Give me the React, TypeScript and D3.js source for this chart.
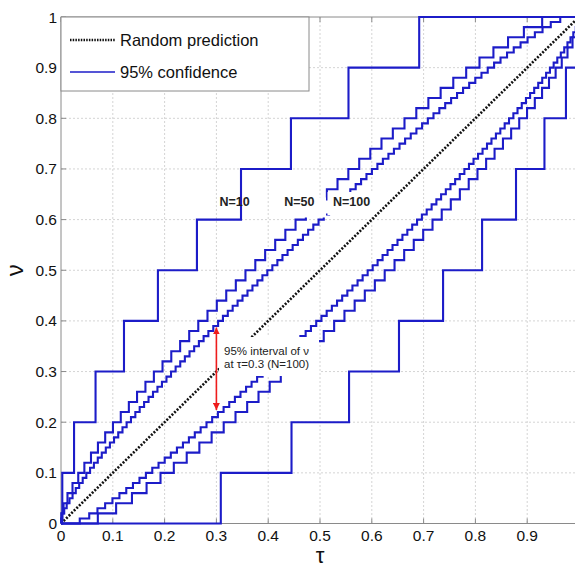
import React from "react";
import * as d3 from "d3";

// Step breakpoints: tau at which nu steps up by 1/N
const upper10 = [0.0025, 0.0252, 0.0667, 0.1216, 0.1871, 0.2624, 0.3475, 0.4439, 0.555, 0.6915];
const lower10 = [0.3085, 0.445, 0.5561, 0.6525, 0.7376, 0.8129, 0.8784, 0.9333, 0.9748, 0.9975];

const upper50 = [
  0.0005, 0.0049, 0.0125, 0.0222, 0.0333, 0.0451, 0.0579, 0.0713, 0.0853, 0.1003,
  0.1154, 0.131, 0.1468, 0.163, 0.1793, 0.196, 0.2129, 0.23, 0.2475, 0.265,
  0.2828, 0.3008, 0.319, 0.3375, 0.3561, 0.3751, 0.3941, 0.4135, 0.4331, 0.4528,
  0.4727, 0.4928, 0.5133, 0.5338, 0.5547, 0.5757, 0.5971, 0.6187, 0.6406, 0.6631,
  0.6859, 0.7092, 0.7329, 0.7573, 0.7822, 0.8079, 0.8348, 0.863, 0.8936, 0.9289,
];
const lower50 = [
  0.0711, 0.1064, 0.137, 0.1652, 0.1921, 0.2178, 0.2427, 0.2671, 0.2908, 0.3141,
  0.3369, 0.3594, 0.3813, 0.4029, 0.4243, 0.4453, 0.4662, 0.4867, 0.5072, 0.5273,
  0.5472, 0.5669, 0.5865, 0.6059, 0.6249, 0.6439, 0.6625, 0.681, 0.6992, 0.7172,
  0.735, 0.7525, 0.77, 0.7871, 0.804, 0.8207, 0.837, 0.8532, 0.869, 0.8846,
  0.8997, 0.9147, 0.9287, 0.9421, 0.9549, 0.9667, 0.9778, 0.9875, 0.9951, 0.9995,
];

const upper100 = [
  0.0003, 0.0024, 0.0062, 0.011, 0.0164, 0.0223, 0.0285, 0.0351, 0.0419, 0.0489,
  0.0561, 0.0635, 0.071, 0.0787, 0.0865, 0.0944, 0.1024, 0.1105, 0.1187, 0.1267,
  0.1351, 0.1435, 0.1519, 0.1604, 0.169, 0.1776, 0.1862, 0.1949, 0.2036, 0.2124,
  0.2213, 0.2302, 0.2391, 0.2481, 0.2571, 0.2662, 0.2753, 0.2845, 0.294, 0.3033,
  0.3126, 0.322, 0.3314, 0.3409, 0.3504, 0.36, 0.3696, 0.3792, 0.3888, 0.3983,
  0.408, 0.4177, 0.4275, 0.4374, 0.4472, 0.4572, 0.4671, 0.4771, 0.4871, 0.4972,
  0.5073, 0.5175, 0.5277, 0.5379, 0.5482, 0.5585, 0.5689, 0.5793, 0.5897, 0.6002,
  0.6108, 0.6214, 0.6321, 0.6427, 0.6535, 0.6643, 0.6752, 0.6861, 0.6971, 0.7082,
  0.7191, 0.7304, 0.7417, 0.7531, 0.7646, 0.7762, 0.788, 0.7998, 0.8117, 0.8238,
  0.8361, 0.8485, 0.8611, 0.874, 0.8872, 0.9007, 0.9148, 0.9296, 0.9455, 0.9638,
];
const lower100 = [
  0.0362, 0.0545, 0.0704, 0.0852, 0.0993, 0.1128, 0.126, 0.1389, 0.1515, 0.1639,
  0.1762, 0.1883, 0.2002, 0.212, 0.2238, 0.2354, 0.2469, 0.2583, 0.2696, 0.2809,
  0.2918, 0.3029, 0.3139, 0.3248, 0.3357, 0.3465, 0.3573, 0.3679, 0.3786, 0.3892,
  0.3998, 0.4103, 0.4207, 0.4311, 0.4415, 0.4518, 0.4621, 0.4723, 0.4825, 0.4927,
  0.5028, 0.5129, 0.5229, 0.5329, 0.5428, 0.5528, 0.5626, 0.5725, 0.5823, 0.592,
  0.6017, 0.6112, 0.6208, 0.6304, 0.64, 0.6496, 0.6591, 0.6686, 0.678, 0.6874,
  0.6967, 0.706, 0.7155, 0.7247, 0.7338, 0.7429, 0.7519, 0.7609, 0.7698, 0.7787,
  0.7876, 0.7964, 0.8051, 0.8138, 0.8224, 0.831, 0.8396, 0.8481, 0.8565, 0.8649,
  0.8733, 0.8813, 0.8895, 0.8976, 0.9056, 0.9135, 0.9213, 0.929, 0.9365, 0.9439,
  0.9511, 0.9581, 0.9649, 0.9715, 0.9777, 0.9836, 0.989, 0.9938, 0.9976, 0.9997,
];

const xTickValues = [0, 0.1, 0.2, 0.3, 0.4, 0.5, 0.6, 0.7, 0.8, 0.9, 1];
const xTickLabels = ["0", "0.1", "0.2", "0.3", "0.4", "0.5", "0.6", "0.7", "0.8", "0.9"];
const yTickValues = [0, 0.1, 0.2, 0.3, 0.4, 0.5, 0.6, 0.7, 0.8, 0.9, 1];
const yTickLabels = ["0", "0.1", "0.2", "0.3", "0.4", "0.5", "0.6", "0.7", "0.8", "0.9", "1"];

const legendLabels = ["Random prediction", "95% confidence"];
const curveLabels = [
  { text: "N=10", tau: 0.335, nu: 0.635 },
  { text: "N=50", tau: 0.46, nu: 0.635 },
  { text: "N=100", tau: 0.561, nu: 0.635 },
];
const arrowTau = 0.3;
const arrowLow = 0.224;
const arrowHigh = 0.387;
const annotationLines = ["95% interval of \u03bd", "at \u03c4=0.3 (N=100)"];

const W = 575;
const H = 567;
const BLUE = "#1c1cc8";
const FONT = "'Liberation Sans', Arial, sans-serif";

export default function App() {
  const x = d3.scaleLinear().domain([0, 1]).range([61, 579]);
  const y = d3.scaleLinear().domain([0, 1]).range([523.5, 17]);

  const stair = (br: number[]) => {
    const n = br.length;
    const pts: [number, number][] = [[0, 0], ...br.map((t, i) => [t, (i + 1) / n] as [number, number]), [1, 1]];
    return (
      d3
        .line<[number, number]>()
        .x((d) => x(d[0]))
        .y((d) => y(d[1]))
        .curve(d3.curveStepAfter)(pts) || ""
    );
  };

  const curves = [upper10, lower10, upper50, lower50, upper100, lower100];
  const left = x(0);
  const bottom = y(0);
  const top = y(1);

  return (
    <svg
      width={W}
      height={H}
      style={{ position: "absolute", left: 0, top: 0, background: "#fff" }}
      fontFamily={FONT}
    >
      <defs>
        <clipPath id="plotclip">
          <rect x={left - 1.5} y={top - 1.5} width={W - left + 2} height={bottom - top + 3} />
        </clipPath>
        <marker id="arrowR" viewBox="0 0 10 10" refX="10" refY="5" markerWidth="7" markerHeight="7" orient="auto-start-reverse" markerUnits="userSpaceOnUse">
          <path d="M0,0 L10,5 L0,10 z" fill="#ee1c1c" />
        </marker>
      </defs>
      <rect x={0} y={0} width={W} height={H} fill="#fff" />
      {/* grid */}
      <g stroke="#d4d4d4" strokeWidth={1} strokeDasharray="2,2">
        {xTickValues.slice(1).map((v) => (
          <line key={"gx" + v} x1={x(v)} x2={x(v)} y1={top} y2={bottom} />
        ))}
        {yTickValues.slice(1, -1).map((v) => (
          <line key={"gy" + v} x1={left} x2={W} y1={y(v)} y2={y(v)} />
        ))}
      </g>
      {/* axes */}
      <g stroke="#8a8a8a" strokeWidth={1}>
        <line x1={left} x2={left} y1={top} y2={bottom} />
        <line x1={left} x2={W} y1={bottom} y2={bottom} />
        <line x1={left} x2={W} y1={top} y2={top} />
        {xTickValues.map((v) => (
          <line key={"tx" + v} x1={x(v)} x2={x(v)} y1={bottom} y2={bottom - 5} />
        ))}
        {xTickValues.map((v) => (
          <line key={"ttx" + v} x1={x(v)} x2={x(v)} y1={top} y2={top + 5} />
        ))}
        {yTickValues.map((v) => (
          <line key={"ty" + v} x1={left} x2={left + 5} y1={y(v)} y2={y(v)} />
        ))}
      </g>
      <g clipPath="url(#plotclip)">
        {/* random prediction diagonal */}
        <line
          x1={x(0)}
          y1={y(0)}
          x2={x(1)}
          y2={y(1)}
          stroke="#111"
          strokeWidth={2.6}
          strokeDasharray="2,1.6"
        />
        {curves.map((c, i) => (
          <path key={"c" + i} d={stair(c)} fill="none" stroke={BLUE} strokeWidth={2.1} strokeLinejoin="miter" />
        ))}
      </g>
      {/* label backgrounds */}
      <rect x={283} y={197.5} width={43} height={20} fill="#fff" />
      <rect x={327.5} y={192} width={47} height={23} fill="#fff" />
      <rect x={219} y={337} width={100} height={39} fill="#fff" />
      {/* curve labels */}
      {curveLabels.map((l) => (
        <text key={l.text} x={x(l.tau)} y={y(l.nu) + 4.5} textAnchor="middle" fontSize={12.5} fontWeight="bold" fill="#222">
          {l.text}
        </text>
      ))}
      {/* annotation */}
      <line
        x1={x(arrowTau)}
        x2={x(arrowTau)}
        y1={y(arrowLow)}
        y2={y(arrowHigh)}
        stroke="#ee1c1c"
        strokeWidth={1.6}
        markerStart="url(#arrowR)"
        markerEnd="url(#arrowR)"
      />
      {annotationLines.map((t, i) => (
        <text key={t} x={224} y={355 + i * 13} fontSize={11.5} fill="#222">
          {t}
        </text>
      ))}
      {/* tick labels */}
      {xTickLabels.map((t, i) => (
        <text key={"xl" + t} x={x(xTickValues[i])} y={541} textAnchor="middle" fontSize={15.5} fill="#111">
          {t}
        </text>
      ))}
      {yTickLabels.map((t, i) => (
        <text key={"yl" + t} x={57} y={y(yTickValues[i]) + 5.5} textAnchor="end" fontSize={15.5} fill="#111">
          {t}
        </text>
      ))}
      {/* axis labels */}
      <text x={x(0.5)} y={563} textAnchor="middle" fontSize={22} fill="#111">
        {"\u03c4"}
      </text>
      <text transform={`translate(23,${y(0.5)}) rotate(-90)`} textAnchor="middle" fontSize={24} fill="#111">
        {"\u03bd"}
      </text>
      {/* legend */}
      <rect x={left} y={top} width={248} height={74} fill="#fff" stroke="#8a8a8a" strokeWidth={1} />
      <line x1={70} x2={115} y1={40} y2={40} stroke="#111" strokeWidth={2.4} strokeDasharray="1.5,1.2" />
      <line x1={70} x2={115} y1={72} y2={72} stroke={BLUE} strokeWidth={1.5} />
      <text x={120} y={45.5} fontSize={16.5} fill="#111">
        {legendLabels[0]}
      </text>
      <text x={120} y={77.5} fontSize={16.5} fill="#111">
        {legendLabels[1]}
      </text>
    </svg>
  );
}
